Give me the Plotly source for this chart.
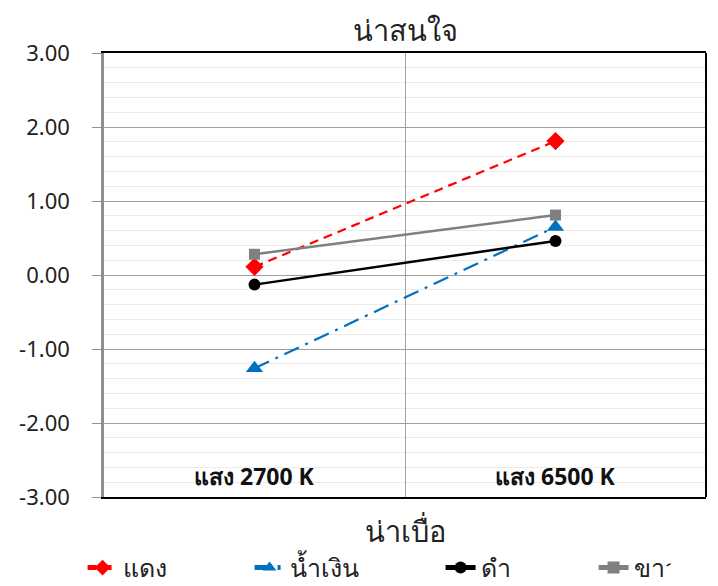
import plotly.graph_objects as go

# Lighting conditions (x categories)
categories = ["แสง 2700 K", "แสง 6500 K"]

# Mean scores per colour group (positive = น่าสนใจ, negative = น่าเบื่อ)
series_names = ["แดง", "น้ำเงิน", "ดำ", "ขาว"]
red_values = [0.11, 1.81]
blue_values = [-1.26, 0.65]
black_values = [-0.13, 0.46]
white_values = [0.28, 0.81]

y_ticks = [-3, -2, -1, 0, 1, 2, 3]
y_tick_text = ["-3.00", "-2.00", "-1.00", "0.00", "1.00", "2.00", "3.00"]

FONT = "Noto Sans, Tahoma, sans-serif"

styles = [
    dict(color="#ff0000", dash="9px,6px", symbol="diamond", size=14, width=2.2, lw=122),
    dict(color="#0070c0", dash="16px,7px,3px,7px", symbol="triangle-up", size=15, width=2.2, lw=146),
    dict(color="#000000", dash="solid", symbol="circle", size=12, width=2.5, lw=108),
    dict(color="#808080", dash="solid", symbol="square", size=11, width=2.5, lw=32),
]

fig = go.Figure()
for name, vals, st in zip(series_names,
                          [red_values, blue_values, black_values, white_values],
                          styles):
    fig.add_trace(go.Scatter(
        x=categories, y=vals, name=name, mode="lines+markers",
        line=dict(color=st["color"], dash=st["dash"], width=st["width"]),
        marker=dict(symbol=st["symbol"], size=st["size"], color=st["color"]),
        legendwidth=st["lw"],
    ))

fig.update_layout(
    width=718, height=586,
    margin=dict(l=104, r=12, t=53, b=89),
    paper_bgcolor="white", plot_bgcolor="white",
    font=dict(family=FONT, size=22, color="#222222"),
    showlegend=True,
    legend=dict(
        orientation="h", xref="container", yref="container",
        x=0.115, xanchor="left", y=0.031, yanchor="middle",
        font=dict(size=25, color="#222222"),
        itemsizing="constant", tracegroupgap=0,
    ),
)

fig.update_xaxes(
    type="category", categoryorder="array", categoryarray=categories,
    range=[-0.5, 1.5], showticklabels=False, ticks="",
    tickson="boundaries", showgrid=True, gridcolor="#a0a0a0", gridwidth=1,
    showline=True, linecolor="#000000", linewidth=2, mirror=True,
    zeroline=False,
)

fig.update_yaxes(
    range=[-3, 3], tickvals=y_ticks, ticktext=y_tick_text,
    ticks="outside", ticklen=9, tickcolor="#909090", tickwidth=1,
    ticklabelstandoff=18,
    tickfont=dict(size=22, color="#222222"),
    showgrid=True, gridcolor="#a0a0a0", gridwidth=1,
    minor=dict(dtick=0.2, showgrid=True, gridcolor="#ececec", gridwidth=1),
    showline=True, linecolor="#909090", linewidth=2.5,
    zeroline=False,
)

# right-hand frame edge
fig.add_shape(type="line", xref="paper", yref="paper", x0=1, x1=1, y0=0, y1=1,
              line=dict(color="#000000", width=2), layer="above")

# category labels inside the plot, near the bottom
for c in categories:
    fig.add_annotation(x=c, y=-2.72, xref="x", yref="y", text="<b>" + c + "</b>",
                       showarrow=False,
                       font=dict(size=23, color="#111111", family=FONT),
                       yanchor="middle")

# pole labels
fig.add_annotation(x=0.5, y=1, xref="paper", yref="paper", text="น่าสนใจ",
                   showarrow=False, yanchor="bottom", yshift=2,
                   font=dict(size=29, color="#222222"))
fig.add_annotation(x=0.5, y=0, xref="paper", yref="paper", text="น่าเบื่อ",
                   showarrow=False, yanchor="top", yshift=-12,
                   font=dict(size=29, color="#222222"))

fig.write_html("out.html")
